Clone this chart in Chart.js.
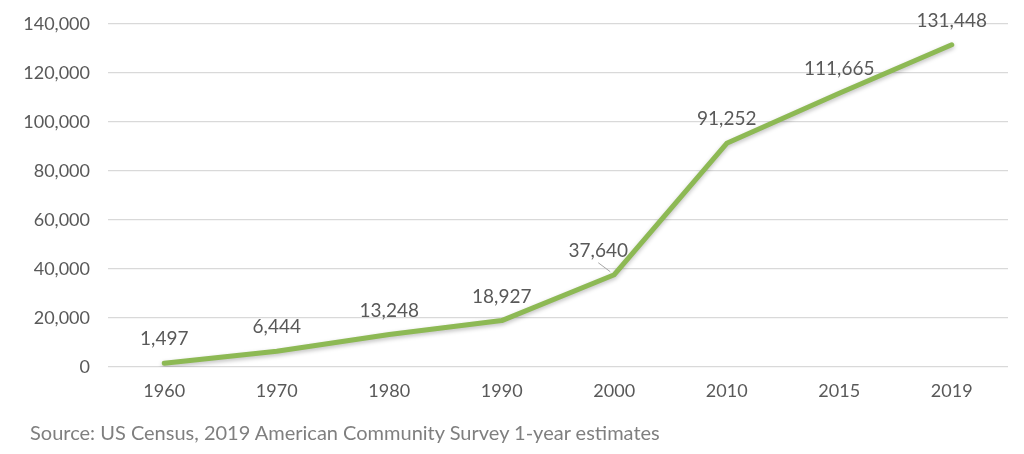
<!DOCTYPE html>
<html>
<head>
<meta charset="utf-8">
<script src="https://cdn.jsdelivr.net/npm/chart.js@4"></script>
<style>
  html, body { margin: 0; padding: 0; background: #fff; overflow: hidden; }
  #wrap { position: relative; width: 1024px; height: 454px; overflow: hidden; }
  #grafico { position: absolute; left: 0; top: -5px; }
  #fuente { position: absolute; left: 30px; top: 420px; font-family: Lato, sans-serif; font-size: 20px; line-height: 24px; color: #7f7f7f; }
</style>
</head>
<body>
<div id="wrap">
  <canvas id="grafico" width="1024" height="459"></canvas>
  <div id="fuente">Source: US Census, 2019 American Community Survey 1-year estimates</div>
</div>
<script>
const anios = ['1960', '1970', '1980', '1990', '2000', '2010', '2015', '2019']
const poblacion = [1497, 6444, 13248, 18927, 37640, 91252, 111665, 131448]
const marcasY = [0, 20000, 40000, 60000, 80000, 100000, 120000, 140000]

const fmt = v => v.toLocaleString('en-US')

// sombra suave bajo la linea
const sombra = {
  id: 'sombra',
  beforeDatasetDraw (chart) {
    const ctx = chart.ctx
    ctx.save()
    ctx.shadowColor = 'rgba(0,0,0,0.25)'
    ctx.shadowBlur = 4
    ctx.shadowOffsetY = 2
  },
  afterDatasetDraw (chart) {
    chart.ctx.restore()
  }
}

// etiquetas de datos sobre cada punto
const etiquetas = {
  id: 'etiquetas',
  afterDatasetsDraw (chart) {
    const ctx = chart.ctx
    const meta = chart.getDatasetMeta(0)
    ctx.save()
    ctx.font = '19px Lato'
    ctx.fillStyle = '#595959'
    ctx.textAlign = 'center'
    ctx.textBaseline = 'middle'
    meta.data.forEach((pt, i) => {
      let dx = 0
      if (i === 4) {
        dx = -16
        ctx.strokeStyle = '#a6a6a6'
        ctx.lineWidth = 1
        ctx.beginPath()
        ctx.moveTo(pt.x - 16, pt.y - 12)
        ctx.lineTo(pt.x - 4, pt.y - 3)
        ctx.stroke()
      }
      ctx.fillText(fmt(chart.data.datasets[0].data[i]), pt.x + dx, pt.y - 24)
    })
    ctx.restore()
  }
}

const ctx = document.getElementById('grafico').getContext('2d')
new Chart(ctx, {
  type: 'line',
  data: {
    labels: anios,
    datasets: [{
      data: poblacion,
      borderColor: '#8db954',
      borderWidth: 5,
      pointRadius: 0,
      tension: 0,
      borderCapStyle: 'round',
      borderJoinStyle: 'round'
    }]
  },
  options: {
    responsive: false,
    animation: false,
    layout: { padding: { top: 9, right: 16, bottom: 47, left: 0 } },
    plugins: { legend: { display: false }, tooltip: { enabled: false } },
    scales: {
      x: {
        offset: true,
        grid: { display: false },
        border: { display: false },
        ticks: { color: '#595959', font: { family: 'Lato', size: 18 }, padding: 5 },
        afterFit: s => { s.height = 40 }
      },
      y: {
        min: 0,
        max: 140000,
        afterBuildTicks: s => { s.ticks = marcasY.map(v => ({ value: v })) },
        grid: { color: '#d9d9d9', lineWidth: 1.3, drawTicks: false },
        border: { display: false },
        ticks: { color: '#595959', font: { family: 'Lato', size: 18 }, padding: 18, callback: v => fmt(v) },
        afterFit: s => { s.width = 108 }
      }
    }
  },
  plugins: [sombra, etiquetas]
})
</script>
</body>
</html>
